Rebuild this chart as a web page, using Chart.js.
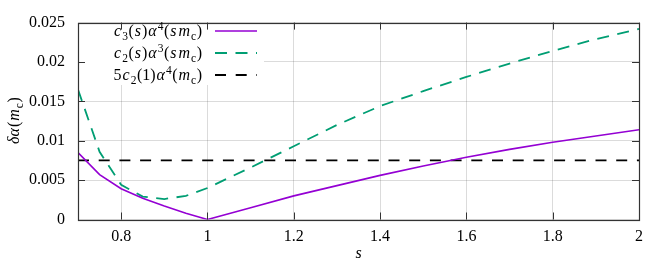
<!DOCTYPE html>
<html>
<head>
<meta charset="utf-8">
<script src="https://cdn.jsdelivr.net/npm/chart.js@4"></script>
<style>
html,body{margin:0;padding:0;background:#fff;}
#wrap{width:664px;height:266px;position:relative;}
</style>
</head>
<body>
<div id="wrap"><canvas id="c" width="664" height="266"></canvas></div>
<script>
// ---- data ----
const sValues  = [0.7, 0.75, 0.8, 0.85, 0.9, 0.95, 1.0, 1.1, 1.2, 1.3, 1.4, 1.5, 1.6, 1.7, 1.8, 1.9, 2.0];
const c3Values = [0.0085, 0.0057, 0.0039, 0.0027, 0.0017, 0.0008, 0.0, 0.0015, 0.0030, 0.0043, 0.0056, 0.0068, 0.0079, 0.0089, 0.0098, 0.0106, 0.0114];
const c2Values = [0.0165, 0.0086, 0.0044, 0.0029, 0.0026, 0.0030, 0.0040, 0.0066, 0.0093, 0.0120, 0.0144, 0.0163, 0.0181, 0.0198, 0.0214, 0.0229, 0.0242];
const refS      = [0.7, 2.0];
const refValues = [0.0075, 0.0075];
const xTickValues = [0.8, 1.0, 1.2, 1.4, 1.6, 1.8, 2.0];
const xTickLabels = ['0.8', '1', '1.2', '1.4', '1.6', '1.8', '2'];
const yTickValues = [0, 0.005, 0.01, 0.015, 0.02, 0.025];
const yTickLabels = ['0', '0.005', '0.01', '0.015', '0.02', '0.025'];

// rich text segments: n normal, i italic, sb subscript, sp superscript
const legendRows = [
  [['c','i'],['3','sb'],['(','n'],['s','i'],[')','n'],['α','i'],['4','sp'],['(','n'],['s','i'],['m','i'],['c','sb'],[')','n']],
  [['c','i'],['2','sb'],['(','n'],['s','i'],[')','n'],['α','i'],['3','sp'],['(','n'],['s','i'],['m','i'],['c','sb'],[')','n']],
  [['5','n'],['c','i'],['2','sb'],['(1)','n'],['α','i'],['4','sp'],['(','n'],['m','i'],['c','sb'],[')','n']]
];
const yTitle = [['δα','i'],['(','n'],['m','i'],['c','sb'],[')','n']];
const xTitle = [['s','i']];

const FONT = "Liberation Serif";
const PURPLE = '#9400d3', GREEN = '#009e73', BLACK = '#000000';
const BORDER = '#333333';
const ITAL_EXTRA = 2;

function segFont(st){
  if (st === 'i') return 'italic 16px "' + FONT + '"';
  if (st === 'sb' || st === 'sp') return '11.5px "' + FONT + '"';
  return '16px "' + FONT + '"';
}
function segAdvance(ctx, t, st){
  ctx.font = segFont(st);
  return ctx.measureText(t).width + (st === 'i' ? ITAL_EXTRA : (st === 'sb' || st === 'sp' ? 0.5 : 0));
}
function richWidth(ctx, segs){
  let w = 0;
  for (const [t, st] of segs) w += segAdvance(ctx, t, st);
  return w;
}
function drawRich(ctx, segs, x, baseline, align){
  const w = richWidth(ctx, segs);
  let cx = align === 'right' ? x - w : (align === 'center' ? x - w/2 : x);
  ctx.textBaseline = 'alphabetic';
  ctx.textAlign = 'left';
  for (const [t, st] of segs){
    ctx.font = segFont(st);
    let dy = 0;
    if (st === 'sb') dy = 3.5;
    if (st === 'sp') dy = -6.5;
    ctx.fillText(t, cx + (st === 'i' ? ITAL_EXTRA/2 : 0), baseline + dy);
    cx += segAdvance(ctx, t, st);
  }
}

const gnuplotDecor = {
  id: 'gnuplotDecor',
  beforeDatasetsDraw(chart){
    const ctx = chart.ctx, a = chart.chartArea;
    ctx.save();
    ctx.fillStyle = '#ffffff';
    ctx.fillRect(a.left + 1, a.top + 1, 263 - a.left, 84 - a.top);
    ctx.restore();
  },
  afterDraw(chart){
    const ctx = chart.ctx, a = chart.chartArea;
    const xs = chart.scales.x, ys = chart.scales.y;
    ctx.save();
    ctx.strokeStyle = BORDER;
    ctx.lineWidth = 1;
    ctx.beginPath();
    const TL = 7;
    for (const v of xTickValues){
      const px = Math.round(xs.getPixelForValue(v)) + 0.5;
      ctx.moveTo(px, a.bottom); ctx.lineTo(px, a.bottom - TL);
      ctx.moveTo(px, a.top); ctx.lineTo(px, a.top + TL);
    }
    for (const v of yTickValues){
      const py = Math.round(ys.getPixelForValue(v)) + 0.5;
      ctx.moveTo(a.left, py); ctx.lineTo(a.left + TL, py);
      ctx.moveTo(a.right, py); ctx.lineTo(a.right - TL, py);
    }
    ctx.stroke();
    ctx.lineWidth = 1.2;
    ctx.strokeRect(Math.round(a.left)+0.5, Math.round(a.top)+0.5, Math.round(a.right - a.left), Math.round(a.bottom - a.top));

    ctx.fillStyle = '#000';
    const rowsY = [31, 53, 75];
    const ds = chart.data.datasets;
    legendRows.forEach((segs, i) => {
      drawRich(ctx, segs, 202, rowsY[i] + 5, 'right');
      ctx.save();
      ctx.strokeStyle = ds[i].borderColor;
      ctx.lineWidth = ds[i].borderWidth;
      ctx.setLineDash(ds[i].borderDash || []);
      ctx.beginPath();
      ctx.moveTo(215, rowsY[i]); ctx.lineTo(257, rowsY[i]);
      ctx.stroke();
      ctx.restore();
    });

    ctx.fillStyle = '#000';
    drawRich(ctx, xTitle, (a.left + a.right)/2, 258, 'center');
    ctx.save();
    ctx.translate(19, (a.top + a.bottom)/2);
    ctx.rotate(-Math.PI/2);
    drawRich(ctx, yTitle, 0, 0, 'center');
    ctx.restore();
    ctx.restore();
  }
};

const toPts = (xsArr, ysArr) => xsArr.map((x, i) => ({x, y: ysArr[i]}));

new Chart(document.getElementById('c'), {
  type: 'line',
  data: {
    datasets: [
      { label: 'c3', data: toPts(sValues, c3Values), borderColor: PURPLE, borderWidth: 1.6, pointRadius: 0, tension: 0, fill: false },
      { label: 'c2', data: toPts(sValues, c2Values), borderColor: GREEN, borderWidth: 1.8, borderDash: [12, 8.5], pointRadius: 0, tension: 0, fill: false },
      { label: 'ref', data: toPts(refS, refValues), borderColor: BLACK, borderWidth: 1.8, borderDash: [11, 9.7], pointRadius: 0, tension: 0, fill: false }
    ]
  },
  options: {
    responsive: false,
    animation: false,
    devicePixelRatio: 1,
    layout: { padding: { left: 0, right: 25, top: 14, bottom: 0 } },
    plugins: { legend: { display: false }, tooltip: { enabled: false } },
    scales: {
      x: {
        type: 'linear', min: 0.7, max: 2.0,
        afterBuildTicks: s => { s.ticks = xTickValues.map(v => ({value: v})); },
        afterFit: s => { s.height = 46.5; },
        grid: { color: 'rgba(0,0,0,0.14)', lineWidth: 1, drawTicks: false },
        border: { display: false },
        ticks: {
          padding: 8, color: '#000', font: { family: FONT, size: 16 },
          maxRotation: 0, autoSkip: false,
          callback: (v) => { const i = xTickValues.findIndex(t => Math.abs(t - v) < 1e-9); return i >= 0 ? xTickLabels[i] : ''; }
        }
      },
      y: {
        type: 'linear', min: 0, max: 0.025,
        afterBuildTicks: s => { s.ticks = yTickValues.map(v => ({value: v})); },
        afterFit: s => { s.width = 78; },
        grid: { color: 'rgba(0,0,0,0.14)', lineWidth: 1, drawTicks: false },
        border: { display: false },
        ticks: {
          padding: 13, color: '#000', font: { family: FONT, size: 16 },
          autoSkip: false,
          callback: (v) => { const i = yTickValues.findIndex(t => Math.abs(t - v) < 1e-12); return i >= 0 ? yTickLabels[i] : ''; }
        }
      }
    }
  },
  plugins: [gnuplotDecor]
});
</script>
</body>
</html>
